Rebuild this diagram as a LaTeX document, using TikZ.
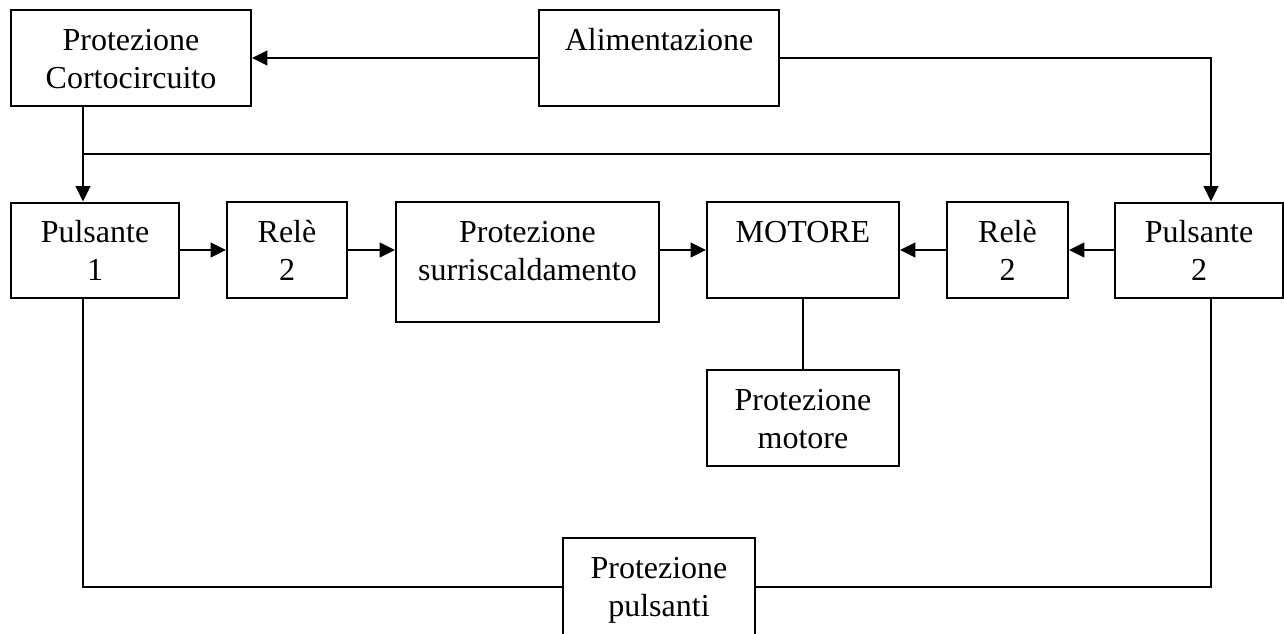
\documentclass[tikz,border=0pt]{standalone}
\usepackage{fontspec}
\setmainfont{Liberation Serif}
\usetikzlibrary{arrows.meta}
\begin{document}
\begin{tikzpicture}[x=0.75pt,y=-0.75pt,
  box/.style={draw=black,line width=1.5pt,fill=white,inner sep=0pt},
  lbl/.style={font=\fontsize{24}{28.5}\selectfont,align=center,anchor=base,inner sep=0pt},
  conn/.style={line width=1.5pt},
  arr/.style={conn,-{Triangle[length=11.5pt,width=11pt]}}]
\useasboundingbox (0,0) rectangle (1284,633);
\begin{scope}
\clip (0,0) rectangle (1284,633);
% boxes
\node[box,minimum width=180pt,minimum height=72pt] (pc) at (131,58) {};
\node[box,minimum width=180pt,minimum height=72pt] (al) at (659,58) {};
\node[box,minimum width=126pt,minimum height=71.25pt] (p1) at (95,250) {};
\node[box,minimum width=90pt,minimum height=72pt] (r1) at (287,250) {};
\node[box,minimum width=197.25pt,minimum height=90pt] (ps) at (527.5,262) {};
\node[box,minimum width=144pt,minimum height=72pt] (mo) at (803,250) {};
\node[box,minimum width=90.75pt,minimum height=72pt] (r2) at (1007.5,250) {};
\node[box,minimum width=126pt,minimum height=71.25pt] (p2) at (1199,250) {};
\node[box,minimum width=144pt,minimum height=72pt] (pm) at (803,418) {};
\node[box,minimum width=144pt,minimum height=84pt] (pp) at (659,594) {};
% labels (base = baseline of last line)
\node[lbl] (tpc) at (131,88) {Protezione\\Cortocircuito};
\node[lbl] (tal) at (659,50) {Alimentazione};
\node[lbl] (tp1) at (95,280) {Pulsante\\1};
\node[lbl] (tr1) at (287,280) {Relè\\2};
\node[lbl] (tps) at (527.5,280) {Protezione\\surriscaldamento};
\node[lbl] (tmo) at (803,242) {MOTORE};
\node[lbl] (tr2) at (1007.5,280) {Relè\\2};
\node[lbl] (tp2) at (1199,280) {Pulsante\\2};
\node[lbl] (tpm) at (803,448) {Protezione\\motore};
\node[lbl] (tpp) at (659,616) {Protezione\\pulsanti};
% junctions
\coordinate (j1) at (83,154);
\coordinate (j2) at (1211,154);
\coordinate (j3) at (83,587);
\coordinate (j4) at (1211,587);
% connectors
\draw[arr] (al.west) -- (pc.east);
\draw[arr] (al.east) -| (p2.north -| j2);
\draw[conn] (j1) -- (j2);
\draw[arr] (pc.south -| j1) -- (p1.north -| j1);
\draw[arr] (p1.east) -- (r1.west);
\draw[arr] (r1.east) -- (r1.east -| ps.west);
\draw[arr] (mo.west -| ps.east) -- (mo.west);
\draw[arr] (r2.west) -- (mo.east);
\draw[arr] (p2.west) -- (r2.east);
\draw[conn] (mo.south) -- (pm.north);
\draw[conn] (p1.south -| j3) -- (j3) -- (j3 -| pp.west);
\draw[conn] (p2.south -| j4) -- (j4) -- (j4 -| pp.east);
\end{scope}
\end{tikzpicture}
\end{document}
